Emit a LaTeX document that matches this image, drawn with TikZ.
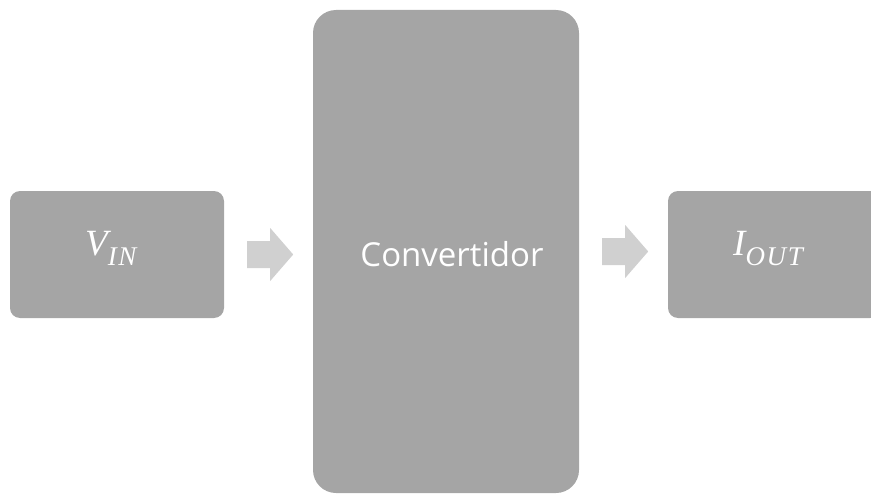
\documentclass[tikz,border=0pt]{standalone}
\usepackage{fontspec}
\setmainfont{Open Sans}
\newfontfamily\symfont{Liberation Serif}
\newfontfamily\symsubfont[LetterSpace=6]{Liberation Serif}
\newcommand{\varsub}[2]{{\symfont\itshape\fontsize{37}{40}\selectfont #1\raisebox{-10pt}{\symsubfont\itshape\fontsize{27}{30}\selectfont #2}}}
\begin{document}
\begin{tikzpicture}[x=1pt,y=-1pt,
  block/.style={fill=boxgray,draw=none,text=white,inner sep=0pt},
  flow/.style={fill=arrowgray,draw=none}]
\definecolor{boxgray}{HTML}{A5A5A5}
\definecolor{arrowgray}{HTML}{D0D0D0}
\useasboundingbox (0,0) rectangle (871,495);
\clip (0,0) rectangle (871,495);
% blocks
\node[block,rounded corners=10pt,minimum width=214pt,minimum height=127pt]
  (vin) at (117,254.5) {};
\node[block,rounded corners=23pt,minimum width=266pt,minimum height=483pt]
  (conv) at (446,251.5) {};
\node[block,rounded corners=10pt,minimum width=212pt,minimum height=127pt]
  (iout) at (774,254.5) {};
% labels
\node[text=white,inner sep=0pt,anchor=base west] (vinlabel) at (85,255) {\varsub{V}{IN}};
\node[text=white,inner sep=0pt,anchor=base,font=\fontsize{33}{40}\selectfont]
  (convlabel) at (452,266) {Convertidor};
\node[text=white,inner sep=0pt,anchor=base west] (ioutlabel) at (733,255) {\varsub{I}{OUT}};
% block arrows between the stages
\fill[flow] ([xshift=23pt,yshift=13.5pt]vin.east) -- ++(23,0) -- ++(0,-13) -- ++(23,26.5)
  -- ++(-23,26.5) -- ++(0,-13) -- ++(-23,0) -- cycle;
\fill[flow] ([xshift=23pt,yshift=13.5pt]conv.east) -- ++(23,0) -- ++(0,-13) -- ++(23,26.5)
  -- ++(-23,26.5) -- ++(0,-13) -- ++(-23,0) -- cycle;
\end{tikzpicture}
\end{document}
